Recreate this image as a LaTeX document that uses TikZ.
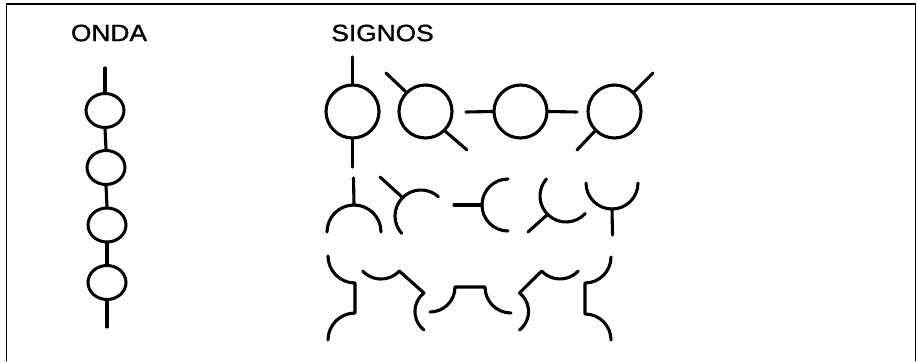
\documentclass[tikz,border=0pt]{standalone}
\usepackage{fontspec}
\setmainfont{Liberation Sans}
\newfontfamily\titlefont[FakeBold=1.2]{Liberation Sans}
\usetikzlibrary{shapes.geometric}
\begin{document}
\begin{tikzpicture}[x=1pt,y=-1pt,
  ln/.style={line width=3.1pt,line cap=round,line join=round},
  wave/.style={ellipse,draw,line width=3pt,minimum width=38pt,minimum height=34pt,inner sep=0pt},
  sig/.style={circle,draw,line width=3.1pt,minimum size=53pt,inner sep=0pt},
  title/.style={font=\titlefont\fontsize{23.5}{23.5}\selectfont,xscale=1.12,transform shape,inner sep=0pt}]
\useasboundingbox (0,0) rectangle (917,361);
% frame
\draw[line width=1.4pt] (6.5,361) -- (6.5,4) -- (915.5,4) -- (915.5,361);
% titles
\node[title] (onda) at (109,33) {ONDA};
\node[title] (signos) at (382.5,33) {SIGNOS};
% ONDA column
\node[wave] (o1) at (105,110.5) {};
\node[wave] (o2) at (106,167.5) {};
\node[wave] (o3) at (107,225) {};
\node[wave] (o4) at (107,282.5) {};
\coordinate (otop) at (105,68);
\coordinate (obot) at (107,327);
\draw[ln] (otop) -- (o1.north);
\draw[ln] (o1.south) -- (o2.north);
\draw[ln] (o2.south) -- (o3.north);
\draw[ln] (o3.south) -- (o4.north);
\draw[ln] (o4.south) -- (obot);
% row 1
\node[sig] (c1) at (352.5,111.5) {};
\node[sig] (c2) at (425.5,111.5) {};
\node[sig] (c3) at (520.5,111.5) {};
\node[sig] (c4) at (614.5,111.5) {};
\coordinate (c1n) at (352.5,57);
\coordinate (c1s) at (352.5,167);
\coordinate (c2a) at (386,73);
\coordinate (c2b) at (467,150);
\coordinate (c3w) at (466,112);
\coordinate (c3e) at (577,112);
\coordinate (c4a) at (653,73);
\coordinate (c4b) at (577,150);
\draw[ln] (c1.north) -- (c1n);
\draw[ln] (c1.south) -- (c1s);
\draw[ln] (c2.135) -- (c2a);
\draw[ln] (c2.-45) -- (c2b);
\draw[ln] (c3.west) -- (c3w);
\draw[ln] (c3.east) -- (c3e);
\draw[ln] (c4.45) -- (c4a);
\draw[ln] (c4.-135) -- (c4b);
% row 2
\draw[ln] (354,232) ++(180:27) arc[start angle=180,end angle=360,radius=27];
\draw[ln] (354,205) -- (353.5,178);
\draw[ln] (421,216) ++(-48:26) arc[start angle=-48,end angle=-222,radius=26];
\draw[ln] (421,216) ++(-135:26) -- (380,177);
\draw[ln] (454,205) -- (482,205);
\draw[ln] (508,205) ++(-90:26) arc[start angle=-90,end angle=-270,radius=26];
\draw[ln] (566,196) ++(-139:26) arc[start angle=-139,end angle=-318,radius=26];
\draw[ln] (566,196) ++(-225:26) -- (528,232);
\draw[ln] (612,183) ++(-180:26) arc[start angle=-180,end angle=-360,radius=26];
\draw[ln] (612,209) -- (612.5,235);
% row 3
\draw[ln] (328,256) arc[start angle=180,end angle=90,radius=27] -- (355,313)
  arc[start angle=-90,end angle=-180,radius=27];
\draw[ln] (381,254) ++(-223:25) arc[start angle=-223,end angle=-317,radius=25] -- (424,293)
  arc[start angle=-128,end angle=-232,radius=23.5];
\draw[ln] (430,312) arc[start angle=90,end angle=0,radius=25] -- (485,287)
  arc[start angle=180,end angle=90,radius=26];
\draw[ln] (519.5,330) arc[start angle=52,end angle=-52,radius=23.5] -- (541.7,271)
  arc[start angle=-223,end angle=-317,radius=25];
\draw[ln] (611,257) arc[start angle=0,end angle=90,radius=26] -- (585,314)
  arc[start angle=-90,end angle=0,radius=26];
\end{tikzpicture}
\end{document}
